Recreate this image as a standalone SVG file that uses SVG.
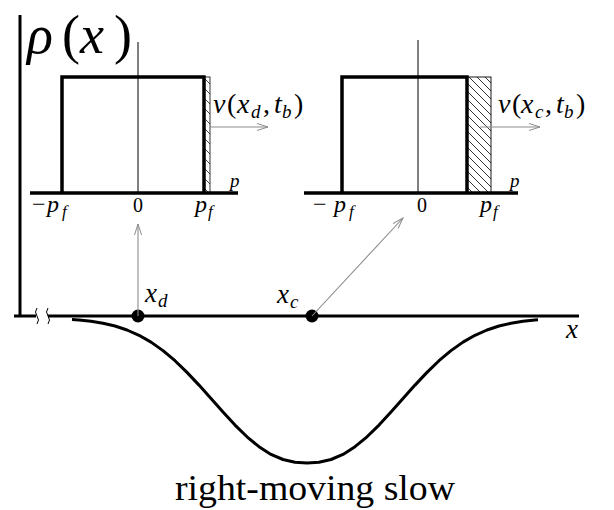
<svg xmlns="http://www.w3.org/2000/svg" width="614" height="510" viewBox="0 0 614 510">
<style>
.thick{stroke:#000;stroke-width:3.5;fill:none}
.axis{stroke:#000;stroke-width:3;fill:none;stroke-linejoin:round}
.thin{stroke:#000;stroke-width:1;fill:none}
.conn{stroke:#8c8c8c;stroke-width:1.1;fill:none}
</style>
<defs>
<pattern id="hatch" patternUnits="userSpaceOnUse" width="8" height="8">
<path d="M-2,-2 L10,10 M-2,6 L2,10 M6,-2 L10,2" stroke="#000" stroke-width="0.8"/>
</pattern>
<pattern id="hatch2" patternUnits="userSpaceOnUse" x="204" y="77" width="6" height="10">
<path d="M0,1 L6,7" stroke="#000" stroke-width="0.7"/>
</pattern>
<marker id="arr" viewBox="0 0 12 8" refX="11" refY="4" markerWidth="12" markerHeight="8" markerUnits="userSpaceOnUse" orient="auto">
<path d="M0,0.5 L11,4 L0,7.5" fill="none" stroke="#8c8c8c" stroke-width="1"/>
</marker>
</defs>

<g id="axes">
<path class="axis" d="M20,15 V316"/>
<path class="axis" d="M14,316 H36 M48,316 H579"/>
<path class="thin" stroke-width="1.2" d="M37,308 q-3,4 0,8 q3,4 0,8 M48,308 q-3,4 0,8 q3,4 0,8"/>
<text x="27" y="53" style="font-family:Liberation Serif,Tinos,serif !important" font-size="54" font-style="italic">ρ</text>
<text x="62" y="53" style="font-family:Liberation Serif,Tinos,serif !important" font-size="54">(</text>
<text x="80" y="53" style="font-family:Liberation Serif,Tinos,serif !important" font-size="54" font-style="italic">x</text>
<text x="114" y="53" style="font-family:Liberation Serif,Tinos,serif !important" font-size="54">)</text>
<text x="566" y="338" style="font-family:Liberation Serif,Tinos,serif !important" font-size="27" font-style="italic">x</text>
</g>

<g id="box-left">
<rect x="204" y="77" width="6" height="116" fill="url(#hatch2)" stroke="#000" stroke-width="0.8"/>
<path class="thin" d="M138,42 V193"/>
<path class="thick" d="M62,193 V77 H204 V193"/>
<path class="thick" d="M30,193 H238"/>
<text x="32" y="212" style="font-family:Liberation Serif,Tinos,serif !important" font-size="24">−</text>
<text x="47" y="212" style="font-family:Liberation Serif,Tinos,serif !important" font-size="24" font-style="italic">p</text>
<text x="62" y="217" style="font-family:Liberation Serif,Tinos,serif !important" font-size="17" font-style="italic">f</text>
<text x="138" y="212" style="font-family:Liberation Serif,Tinos,serif !important" font-size="20" text-anchor="middle">0</text>
<text x="195" y="212" style="font-family:Liberation Serif,Tinos,serif !important" font-size="24" font-style="italic">p</text>
<text x="208" y="217" style="font-family:Liberation Serif,Tinos,serif !important" font-size="17" font-style="italic">f</text>
<text x="230" y="187" style="font-family:Liberation Serif,Tinos,serif !important" font-size="19" font-style="italic">p</text>
<text y="113" style="font-family:Liberation Serif,Tinos,serif !important" font-size="28"><tspan x="213" font-style="italic">v</tspan><tspan x="227">(</tspan><tspan x="237" font-style="italic">x</tspan><tspan x="251" y="118" font-size="19" font-style="italic">d</tspan><tspan x="263" y="113">,</tspan><tspan x="274" font-style="italic">t</tspan><tspan x="282" y="118" font-size="19" font-style="italic">b</tspan><tspan x="294" y="113">)</tspan></text>
</g>

<g id="box-right">
<rect x="467" y="77" width="24" height="116" fill="url(#hatch)" stroke="#000" stroke-width="0.9"/>
<path class="thin" d="M418,40 V193"/>
<path class="thick" d="M342,193 V77 H467 V193"/>
<path class="thick" d="M304,193 H518"/>
<text x="313" y="212" style="font-family:Liberation Serif,Tinos,serif !important" font-size="24">−</text>
<text x="334" y="212" style="font-family:Liberation Serif,Tinos,serif !important" font-size="24" font-style="italic">p</text>
<text x="349" y="217" style="font-family:Liberation Serif,Tinos,serif !important" font-size="17" font-style="italic">f</text>
<text x="422" y="212" style="font-family:Liberation Serif,Tinos,serif !important" font-size="20" text-anchor="middle">0</text>
<text x="480" y="212" style="font-family:Liberation Serif,Tinos,serif !important" font-size="24" font-style="italic">p</text>
<text x="493" y="217" style="font-family:Liberation Serif,Tinos,serif !important" font-size="17" font-style="italic">f</text>
<text x="510" y="187" style="font-family:Liberation Serif,Tinos,serif !important" font-size="19" font-style="italic">p</text>
<text y="113" style="font-family:Liberation Serif,Tinos,serif !important" font-size="28"><tspan x="498" font-style="italic">v</tspan><tspan x="512">(</tspan><tspan x="521" font-style="italic">x</tspan><tspan x="535" y="118" font-size="19" font-style="italic">c</tspan><tspan x="545" y="113">,</tspan><tspan x="556" font-style="italic">t</tspan><tspan x="564" y="118" font-size="19" font-style="italic">b</tspan><tspan x="576" y="113">)</tspan></text>
</g>

<g id="curve">
<polyline class="axis" points="72,319.6 79,320 91,321.3 103,323.2 115,326 127,330 139,335.3 151,342.1 163,350.6 175,360.7 187,372.4 199,385.1 211,398.6 223,412.1 235,425.1 247,436.8 259,446.7 271,454.4 283,459.5 295,462.3 307,463 319,462.3 331,459.5 343,454.4 355,446.7 367,436.8 379,425.1 391,412.1 403,398.6 415,385.1 427,372.4 439,360.7 451,350.6 463,342.1 475,335.3 487,330 499,326 511,323.2 523,321.3 535,320 538,319.8"/>
<text x="175" y="500" style="font-family:Liberation Serif,Tinos,serif !important" font-size="35" textLength="280" lengthAdjust="spacingAndGlyphs">right-moving slow</text>
</g>

<g id="point-xd">
<circle cx="138" cy="316" r="6.5" fill="#000"/>
<text x="145" y="302" style="font-family:Liberation Serif,Tinos,serif !important" font-size="27" font-style="italic">x</text>
<text x="158" y="307" style="font-family:Liberation Serif,Tinos,serif !important" font-size="19" font-style="italic">d</text>
</g>

<g id="point-xc">
<circle cx="312" cy="316" r="6.5" fill="#000"/>
<text x="277" y="303" style="font-family:Liberation Serif,Tinos,serif !important" font-size="27" font-style="italic">x</text>
<text x="290" y="308" style="font-family:Liberation Serif,Tinos,serif !important" font-size="19" font-style="italic">c</text>
</g>

<g id="connectors">
<path class="conn" d="M210,127 H268" marker-end="url(#arr)"/>
<path class="conn" d="M480,127 H540" marker-end="url(#arr)"/>
<path class="conn" d="M138,316 V224" marker-end="url(#arr)"/>
<path class="conn" d="M312,316 L403,218" marker-end="url(#arr)"/>
</g>
</svg>
